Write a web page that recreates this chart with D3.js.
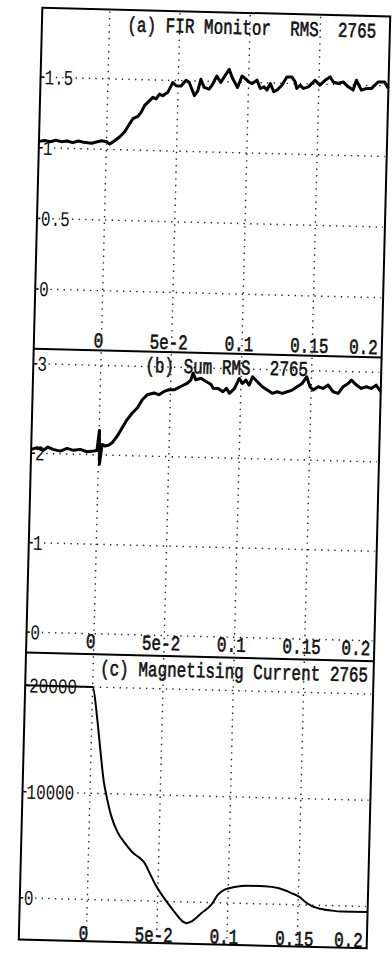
<!DOCTYPE html>
<html>
<head>
<meta charset="utf-8">
<script src="https://cdn.jsdelivr.net/npm/d3@7"></script>
<style>
html, body { margin: 0; padding: 0; background: #fff; }
svg { display: block; }
text { white-space: pre; }
</style>
</head>
<body>
<div id="chart"></div>
<script>
/* global d3 */
// x axis (time, s), shared by all three panels
var xTicks = [0, 0.05, 0.1, 0.15, 0.2],
    xTickLabels = ["0", "5e-2", "0.1", "0.15", "0.2"];

// (a) FIR monitor, [time, value]
var firTitle = "(a) FIR Monitor  RMS  2765",
    firTicks = [0, 0.5, 1, 1.5],
    firData = [
        [-0.048, 1.045], [-0.044, 1.052], [-0.040, 1.044], [-0.036, 1.056], [-0.032, 1.047],
        [-0.028, 1.053], [-0.024, 1.042], [-0.020, 1.055], [-0.016, 1.046], [-0.0106, 1.041],
        [-0.0036, 1.061], [0.0000, 1.055], [0.0024, 1.039], [0.0058, 1.063], [0.0094, 1.092],
        [0.0128, 1.128], [0.0162, 1.187], [0.0184, 1.222], [0.0219, 1.239], [0.0242, 1.270],
        [0.0264, 1.317], [0.0299, 1.353], [0.0322, 1.377], [0.0345, 1.366], [0.0369, 1.401],
        [0.0392, 1.390], [0.0427, 1.415], [0.0461, 1.485], [0.0486, 1.463], [0.0520, 1.463],
        [0.0555, 1.504], [0.0578, 1.488], [0.0617, 1.396], [0.0640, 1.431], [0.0660, 1.513],
        [0.0685, 1.456], [0.0720, 1.445], [0.0744, 1.480], [0.0773, 1.539], [0.0802, 1.494],
        [0.0837, 1.553], [0.0860, 1.588], [0.0883, 1.530], [0.0922, 1.462], [0.0952, 1.544],
        [0.0976, 1.526], [0.1001, 1.503], [0.1025, 1.492], [0.1059, 1.517], [0.1084, 1.459],
        [0.1110, 1.471], [0.1132, 1.449], [0.1155, 1.496], [0.1180, 1.438], [0.1203, 1.450],
        [0.1237, 1.486], [0.1271, 1.545], [0.1306, 1.546], [0.1331, 1.512], [0.1343, 1.465],
        [0.1367, 1.489], [0.1390, 1.467], [0.1426, 1.479], [0.1472, 1.527], [0.1507, 1.493],
        [0.1543, 1.528], [0.1578, 1.553], [0.1602, 1.518], [0.1637, 1.508], [0.1672, 1.520],
        [0.1709, 1.486], [0.1744, 1.464], [0.1766, 1.534], [0.1803, 1.465], [0.1839, 1.478],
        [0.1874, 1.478], [0.1920, 1.526], [0.1967, 1.527], [0.1995, 1.481]
    ];

// (b) Sum RMS
var sumTitle = "(b) Sum RMS  2765",
    sumTicks = [0, 1, 2, 3],
    sumData = [
        [-0.048, 2.042], [-0.044, 2.062], [-0.0396, 2.034], [-0.0361, 2.073], [-0.0325, 2.048],
        [-0.0273, 2.031], [-0.0225, 2.063], [-0.0179, 2.043], [-0.0131, 2.056], [-0.0083, 2.031],
        [-0.0036, 2.041], [-0.0012, 2.048], [0.0002, 2.272], [0.0008, 1.894], [0.0023, 2.117],
        [0.0046, 2.100], [0.0070, 2.111], [0.0094, 2.138], [0.0129, 2.214], [0.0163, 2.308],
        [0.0197, 2.402], [0.0232, 2.477], [0.0267, 2.534], [0.0301, 2.628], [0.0336, 2.685],
        [0.0383, 2.706], [0.0419, 2.689], [0.0454, 2.727], [0.0490, 2.747], [0.0526, 2.748],
        [0.0572, 2.787], [0.0620, 2.826], [0.0643, 2.864], [0.0658, 2.939], [0.0678, 2.865],
        [0.0714, 2.885], [0.0750, 2.850], [0.0786, 2.820], [0.0803, 2.776], [0.0838, 2.776],
        [0.0873, 2.740], [0.0897, 2.778], [0.0920, 2.724], [0.0955, 2.781], [0.0987, 2.893],
        [0.1010, 2.838], [0.1034, 2.876], [0.1058, 2.822], [0.1081, 2.915], [0.1116, 2.861],
        [0.1152, 2.807], [0.1188, 2.771], [0.1224, 2.736], [0.1259, 2.755], [0.1294, 2.738],
        [0.1330, 2.758], [0.1365, 2.778], [0.1400, 2.817], [0.1435, 2.855], [0.1466, 2.930],
        [0.1491, 2.820], [0.1515, 2.784], [0.1550, 2.823], [0.1585, 2.806], [0.1620, 2.844],
        [0.1656, 2.771], [0.1692, 2.754], [0.1727, 2.830], [0.1762, 2.868], [0.1785, 2.906],
        [0.1821, 2.852], [0.1856, 2.816], [0.1891, 2.836], [0.1926, 2.819], [0.1961, 2.857],
        [0.1995, 2.785]
    ];

// (c) Magnetising current
var magTitle = "(c) Magnetising Current 2765",
    magTicks = [0, 10000, 20000],
    magData = [
        [-0.048, 20000], [0.000, 20000], [0.0035, 17350], [0.0065, 14200], [0.0097, 11060],
        [0.0115, 9960], [0.0155, 7920], [0.0205, 6360], [0.0255, 5430], [0.0316, 4500],
        [0.0364, 4040], [0.0400, 3580], [0.0438, 2650], [0.0475, 1710], [0.0537, 470],
        [0.0610, -770], [0.0684, -1850], [0.0708, -2000], [0.0743, -1830], [0.0813, -1020],
        [0.0883, -200], [0.0928, 760], [0.0975, 1250], [0.1045, 1520], [0.1140, 1680],
        [0.1259, 1660], [0.1354, 1530], [0.1450, 1090], [0.1510, 730], [0.1546, 330],
        [0.1595, -60], [0.1642, -270], [0.1738, -460], [0.1810, -530], [0.1995, -500]
    ];

var width = 392,
    height = 954,
    left = 30.5,
    right = 378.5,
    frameTop = 12,
    frameBottom = 944,
    fontFamily = "'Liberation Mono', 'Courier New', monospace",
    fontSize = 21,
    squeeze = 0.76, // the plot font is narrow
    charW = fontSize * 0.6 * squeeze;

var panels = [
    { title: firTitle, data: firData, ticks: firTicks, top: frameTop, bottom: 353,
      domain: [-0.4225, 1.991], titleX: 116, titleY: 33.5, xLabelY: 343.5, lineW: 3, curve: d3.curveLinear },
    { title: sumTitle, data: sumData, ticks: sumTicks, top: 353, bottom: 657,
      domain: [-0.229, 3.168], titleX: 142.5, titleY: 373.5, xLabelY: 644.5, lineW: 3, curve: d3.curveLinear },
    { title: magTitle, data: magData, ticks: magTicks, top: 657, bottom: frameBottom,
      domain: [-3925, 23087], titleX: 105, titleY: 677.5, xLabelY: 936.5, lineW: 2, curve: d3.curveMonotoneX }
];

var x = d3.scaleLinear().domain([-0.048, 0.1995]).range([left, right]);

var svg = d3.select("#chart").append("svg")
    .attr("width", width)
    .attr("height", height);

// the printed page was scanned a little crooked
var page = svg.append("g")
    .attr("transform", "rotate(1.45, 204.5, 478)");

function addText(g, str, tx, ty, anchor, halo) {
    var t = g.append("text")
        .attr("transform", "translate(" + tx + "," + ty + ") scale(" + squeeze + ",1)")
        .attr("text-anchor", anchor)
        .attr("font-family", fontFamily)
        .attr("font-size", fontSize)
        .attr("fill", "#111")
        .attr("stroke", "#111")
        .attr("stroke-width", 0.6)
        .text(str);
    if (halo) {
        // white under-stroke hides the grid dots behind the label
        t.attr("stroke", "#fff").attr("stroke-width", 4).attr("paint-order", "stroke");
    }
    return t;
}

function drawPanel(p) {
    var g = page.append("g"),
        y = d3.scaleLinear().domain(p.domain).range([p.bottom, p.top]);

    // dotted grid
    g.selectAll(".vgrid")
        .data(xTicks.slice(0, -1))
        .enter().append("line")
        .attr("x1", function (d) { return x(d); })
        .attr("x2", function (d) { return x(d); })
        .attr("y1", p.top + 2)
        .attr("y2", p.bottom - 2)
        .attr("stroke", "#222")
        .attr("stroke-width", 1.4)
        .attr("stroke-dasharray", "1.4 5.2");

    g.selectAll(".hgrid")
        .data(p.ticks)
        .enter().append("line")
        .attr("x1", left + 2)
        .attr("x2", right - 2)
        .attr("y1", function (d) { return y(d); })
        .attr("y2", function (d) { return y(d); })
        .attr("stroke", "#222")
        .attr("stroke-width", 1.4)
        .attr("stroke-dasharray", "1.4 5.2");

    // small ticks on the left edge
    g.selectAll(".ytick")
        .data(p.ticks)
        .enter().append("line")
        .attr("x1", left)
        .attr("x2", left + 4)
        .attr("y1", function (d) { return y(d); })
        .attr("y2", function (d) { return y(d); })
        .attr("stroke", "#111")
        .attr("stroke-width", 1.5);

    // y labels sit inside the frame, over the grid
    p.ticks.forEach(function (d) {
        addText(g, String(d), left + 4, y(d) + 7, "start", true);
    });

    // x labels along the bottom of the panel
    xTicks.forEach(function (d, i) {
        var label = xTickLabels[i],
            half = label.length * charW / 2,
            cx = x(d) - 3;
        if (cx + half > right - 4) {
            cx = right - 4 - half;
        }
        addText(g, label, cx, p.xLabelY + 6.5, "middle", false);
    });

    addText(g, p.title, p.titleX, p.titleY, "start", false);

    var line = d3.line()
        .x(function (d) { return x(d[0]); })
        .y(function (d) { return y(d[1]); })
        .curve(p.curve);

    g.append("path")
        .datum(p.data)
        .attr("d", line)
        .attr("fill", "none")
        .attr("stroke", "#000")
        .attr("stroke-width", p.lineW)
        .attr("stroke-linejoin", "round");
}

panels.forEach(drawPanel);

// frame and panel separators
page.append("rect")
    .attr("x", left)
    .attr("y", frameTop)
    .attr("width", right - left)
    .attr("height", frameBottom - frameTop)
    .attr("fill", "none")
    .attr("stroke", "#000")
    .attr("stroke-width", 2);

page.selectAll(".sep")
    .data([353, 657])
    .enter().append("line")
    .attr("x1", left)
    .attr("x2", right)
    .attr("y1", function (d) { return d; })
    .attr("y2", function (d) { return d; })
    .attr("stroke", "#000")
    .attr("stroke-width", 2);
</script>
</body>
</html>
